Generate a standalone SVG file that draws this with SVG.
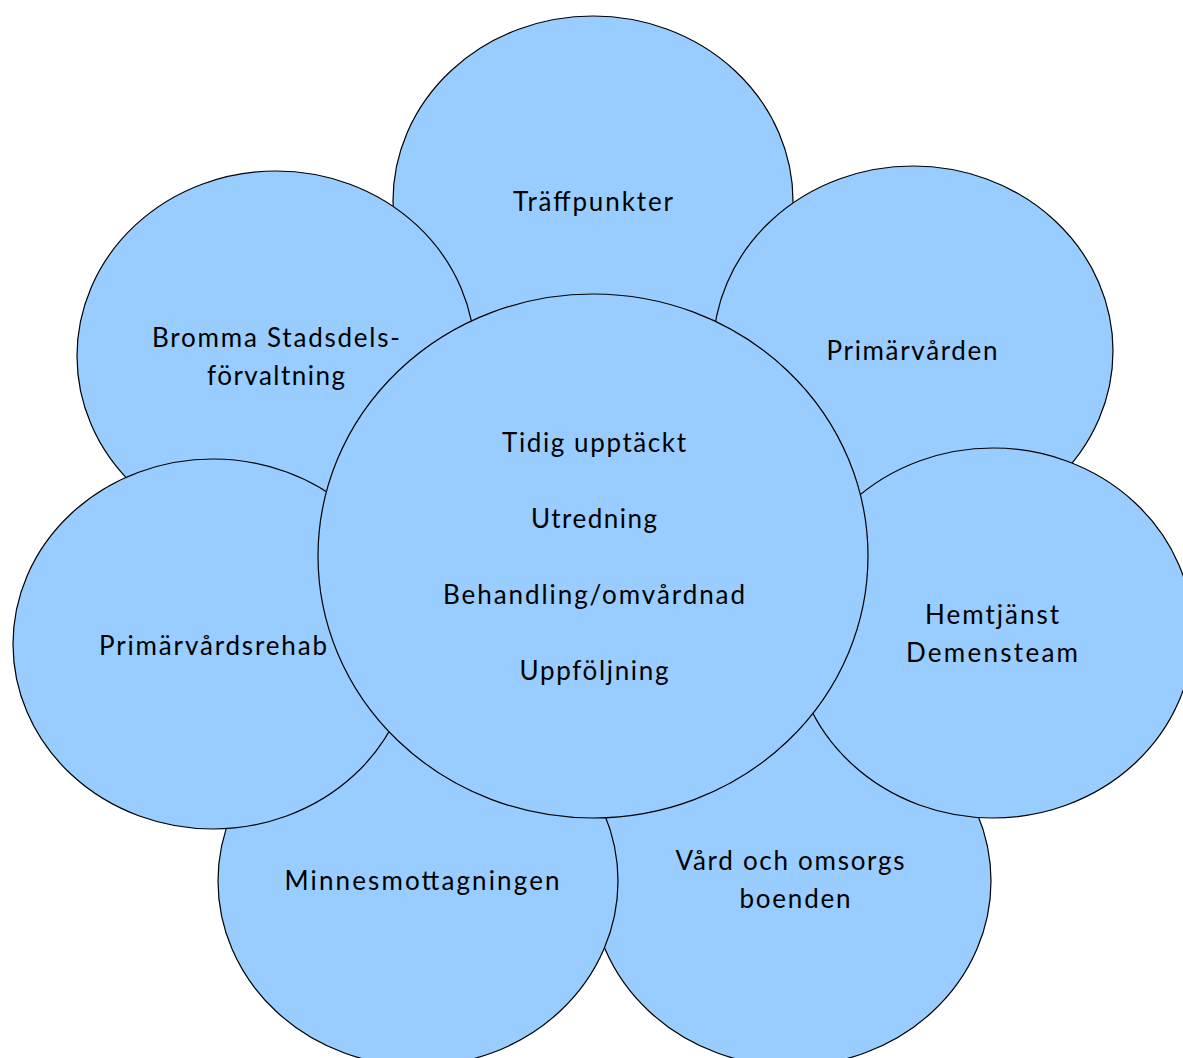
<svg xmlns="http://www.w3.org/2000/svg" width="1183" height="1058" viewBox="0 0 1183 1058">
  <style>
    .petal { fill: #99ccff; stroke: #000000; stroke-width: 1.2; }
    .label { font-family: Lato, "Open Sans", "Liberation Sans", sans-serif; font-size: 26px; fill: #000000; text-anchor: middle; }
  </style>
  <rect width="1183" height="1058" fill="#ffffff"/>

  <!-- petals, back to front -->
  <g id="traffpunkter">
    <ellipse class="petal" cx="593" cy="201" rx="200" ry="185"/>
    <text class="label" x="593" y="211" textLength="160" lengthAdjust="spacing">Träffpunkter</text>
  </g>
  <g id="vard-och-omsorgsboenden">
    <ellipse class="petal" cx="791" cy="881" rx="200" ry="185"/>
    <text class="label" x="790" y="870" textLength="229" lengthAdjust="spacing">Vård och omsorgs</text>
    <text class="label" x="795" y="908" textLength="111" lengthAdjust="spacing">boenden</text>
  </g>
  <g id="primarvarden">
    <ellipse class="petal" cx="913" cy="351" rx="200" ry="185"/>
    <text class="label" x="912" y="360" textLength="171" lengthAdjust="spacing">Primärvården</text>
  </g>
  <g id="bromma-stadsdelsforvaltning">
    <ellipse class="petal" cx="276" cy="356" rx="199" ry="185"/>
    <text class="label" x="276" y="347" textLength="248" lengthAdjust="spacing">Bromma Stadsdels-</text>
    <text class="label" x="276" y="385" textLength="138" lengthAdjust="spacing">förvaltning</text>
  </g>
  <g id="minnesmottagningen">
    <ellipse class="petal" cx="418" cy="881" rx="200" ry="185"/>
    <text class="label" x="422" y="890" textLength="275" lengthAdjust="spacing">Minnesmottagningen</text>
  </g>
  <g id="hemtjanst-demensteam">
    <ellipse class="petal" cx="993" cy="633" rx="200" ry="185"/>
    <text class="label" x="992" y="624" textLength="134" lengthAdjust="spacing">Hemtjänst</text>
    <text class="label" x="992" y="662" textLength="172" lengthAdjust="spacing">Demensteam</text>
  </g>
  <g id="primarvardsrehab">
    <ellipse class="petal" cx="213" cy="644" rx="200" ry="185"/>
    <text class="label" x="213" y="655" textLength="228" lengthAdjust="spacing">Primärvårdsrehab</text>
  </g>

  <!-- centre -->
  <g id="process">
    <ellipse class="petal" cx="593" cy="556" rx="275" ry="262"/>
    <text class="label" x="594" y="452" textLength="184" lengthAdjust="spacing">Tidig upptäckt</text>
    <text class="label" x="594" y="528" textLength="126" lengthAdjust="spacing">Utredning</text>
    <text class="label" x="594" y="604" textLength="302" lengthAdjust="spacing">Behandling/omvårdnad</text>
    <text class="label" x="594" y="680" textLength="149" lengthAdjust="spacing">Uppföljning</text>
  </g>

  <g id="connectors"/>
</svg>
